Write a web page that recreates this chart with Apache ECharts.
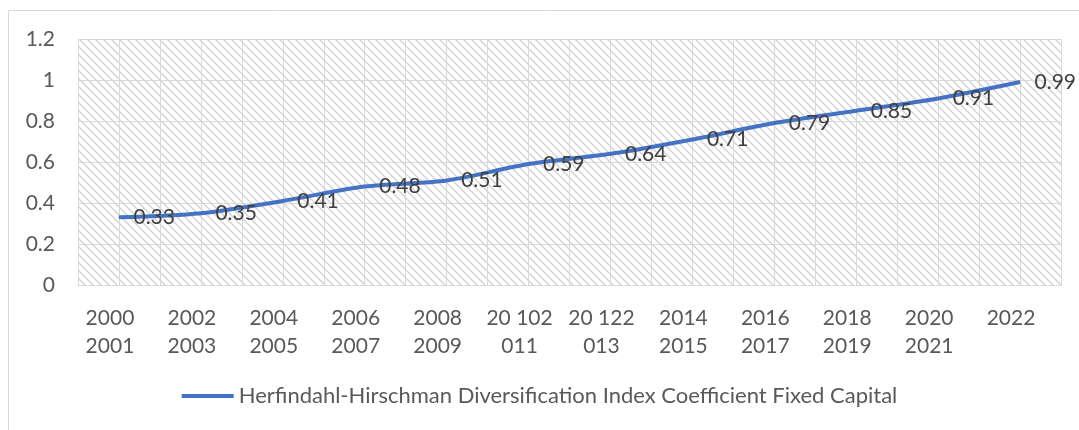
<!DOCTYPE html>
<html>
<head>
<meta charset="utf-8">
<script src="https://cdn.jsdelivr.net/npm/echarts@6/dist/echarts.min.js"></script>
<style>
  html, body { margin: 0; padding: 0; background: #fff; }
  #chart { width: 1079px; height: 430px; }
</style>
</head>
<body>
<div id="chart"></div>
<script>
var categories = ['2000 2001', '2002 2003', '2004 2005', '2006 2007', '2008 2009', '20 102 011',
    '20 122 013', '2014 2015', '2016 2017', '2018 2019', '2020 2021', '2022'];
var hhiValues = [0.33, 0.35, 0.41, 0.48, 0.51, 0.59, 0.64, 0.71, 0.79, 0.85, 0.91, 0.99];
var seriesName = 'Herfindahl-Hirschman Diversification Index Coefficient Fixed Capital';

// diagonal hatch for the plot area
var hatch = document.createElement('canvas');
hatch.width = 8;
hatch.height = 8;
var hc = hatch.getContext('2d');
hc.fillStyle = '#ffffff';
hc.fillRect(0, 0, 8, 8);
hc.strokeStyle = '#d4d4d4';
hc.lineWidth = 1.5;
hc.beginPath();
hc.moveTo(-2, -2); hc.lineTo(10, 10);
hc.moveTo(-2, 6); hc.lineTo(2, 10);
hc.moveTo(6, -2); hc.lineTo(10, 2);
hc.stroke();

var font = 'Lato';
var chart = echarts.init(document.getElementById('chart'));

chart.setOption({
    animation: false,
    textStyle: {fontFamily: font},
    graphic: [{
        type: 'rect',
        shape: {x: 8.5, y: 10.5, width: 1100, height: 460},
        style: {fill: 'none', stroke: '#d9d9d9', lineWidth: 1},
        silent: true
    }],
    grid: {
        left: 78, right: 18, top: 39, bottom: 145,
        show: true,
        borderWidth: 0,
        backgroundColor: {image: hatch, repeat: 'repeat'}
    },
    legend: {
        bottom: 18,
        left: 'center',
        icon: 'rect',
        itemWidth: 52,
        itemHeight: 4,
        itemGap: 5,
        textStyle: {fontFamily: font, fontSize: 22, color: '#595959'},
        data: [seriesName]
    },
    xAxis: [{
        type: 'category',
        data: categories,
        boundaryGap: true,
        axisLine: {lineStyle: {color: '#d9d9d9', width: 1}},
        axisTick: {show: false},
        splitLine: {show: false},
        axisLabel: {
            interval: 0,
            margin: 19,
            fontFamily: font,
            fontSize: 21,
            lineHeight: 28,
            color: '#595959',
            padding: [0, 18, 0, 0],
            formatter: function (v) {
                var i = v.lastIndexOf(' ');
                return i < 0 ? v : v.slice(0, i) + '\n' + v.slice(i + 1);
            }
        }
    }, {
        type: 'value',
        min: 0,
        max: 24,
        interval: 1,
        position: 'top',
        axisLine: {show: false},
        axisTick: {show: false},
        axisLabel: {show: false},
        splitLine: {lineStyle: {color: '#d9d9d9', width: 1}}
    }],
    yAxis: {
        type: 'value',
        min: 0,
        max: 1.2,
        interval: 0.2,
        axisLine: {show: false},
        axisTick: {show: false},
        axisLabel: {
            margin: 23,
            fontFamily: font,
            fontSize: 21,
            color: '#595959',
            formatter: function (v) { return String(Math.round(v * 10) / 10); }
        },
        splitLine: {lineStyle: {color: '#d9d9d9', width: 1}}
    },
    series: [{
        name: seriesName,
        type: 'line',
        xAxisIndex: 0,
        data: hhiValues,
        smooth: 0.3,
        symbol: 'circle',
        symbolSize: 1,
        itemStyle: {color: '#4472c4'},
        lineStyle: {color: '#4472c4', width: 4},
        label: {
            show: true,
            position: 'right',
            distance: 14,
            fontFamily: font,
            fontSize: 21,
            color: '#404040'
        }
    }]
});
</script>
</body>
</html>
